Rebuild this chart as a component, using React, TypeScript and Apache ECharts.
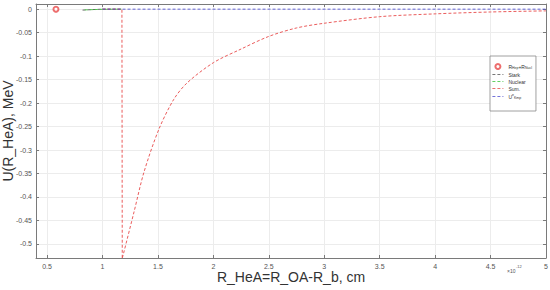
import React, { useEffect, useRef } from "react";
import * as echarts from "echarts";

// x values in units of 1e-12 cm
const xTicks = [0.5, 1, 1.5, 2, 2.5, 3, 3.5, 4, 4.5, 5];
const yTicks = [0, -0.05, -0.1, -0.15, -0.2, -0.25, -0.3, -0.35, -0.4, -0.45, -0.5];

const markerX = [0.58];
const markerY = [0];

const starkX = [0.82, 0.9, 1.0, 1.17];
const starkY = [-0.002, -0.001, 0, 0];

const nuclearX = [0.84, 1.0, 1.17];
const nuclearY = [-0.0015, -0.0003, 0];

const sumStepX = [1.0, 1.175, 1.178];
const sumStepY = [0, 0, -0.53];

const sumCurveX = [1.178, 1.19, 1.284, 1.374, 1.508, 1.643, 1.763, 2.0, 2.24, 2.5, 2.75, 3.0, 3.5, 4.0, 4.5, 5.0];
const sumCurveY = [-0.53, -0.52, -0.432, -0.347, -0.256, -0.192, -0.157, -0.114, -0.086, -0.058, -0.04, -0.03, -0.016, -0.01, -0.006, -0.0036];

const uX = [1.0, 5.0];
const uY = [0, 0];

const zip = (xs: number[], ys: number[]) => xs.map((x, i) => [x, ys[i]]);

const FONT = "'Liberation Sans', Arial, sans-serif";
const AXIS_COLOR = "#7a7a7a";
const LABEL_COLOR = "#555";
const GRID_COLOR = "#ececec";

const X_MIN = 0.4;
const X_MAX = 5;
const Y_MIN = -0.53;
const Y_MAX = 0.011;

export default function App() {
  const ref = useRef<HTMLDivElement>(null);
  useEffect(() => {
    if (!ref.current) return;
    const chart = echarts.init(ref.current, undefined, { renderer: "svg" });
    const baseX = {
      type: "value",
      min: X_MIN,
      max: X_MAX,
      axisLine: { show: true, onZero: false, lineStyle: { color: AXIS_COLOR, width: 1 } },
    };
    const baseY = {
      type: "value",
      min: Y_MIN,
      max: Y_MAX,
      axisLine: { show: true, onZero: false, lineStyle: { color: AXIS_COLOR, width: 1 } },
    };
    const hideSym = { itemStyle: { opacity: 0 } };
    chart.setOption({
      animation: false,
      textStyle: { fontFamily: FONT },
      grid: { left: 36, right: 4, top: 4, bottom: 32, containLabel: false, outerBoundsMode: "none" },
      xAxis: [
        {
          ...baseX,
          position: "bottom",
          name: "R_HeA=R_OA-R_b, cm",
          nameLocation: "middle",
          nameGap: 12,
          nameMoveOverlap: false,
          nameTextStyle: { fontSize: 14, color: "#333", fontFamily: FONT },
          axisTick: { show: true, inside: true, length: 3, customValues: xTicks, lineStyle: { color: AXIS_COLOR } },
          axisLabel: { show: true, customValues: xTicks, fontSize: 7, color: LABEL_COLOR, margin: 5, formatter: (v: number) => String(v) },
          splitLine: { show: true, lineStyle: { color: GRID_COLOR, width: 1 } },
        },
        {
          ...baseX,
          position: "top",
          axisTick: { show: true, inside: true, length: 3, customValues: xTicks, lineStyle: { color: AXIS_COLOR } },
          axisLabel: { show: false },
          splitLine: { show: false },
        },
      ],
      yAxis: [
        {
          ...baseY,
          position: "left",
          name: "U(R_HeA), MeV",
          nameLocation: "middle",
          nameGap: 21,
          nameMoveOverlap: false,
          nameTextStyle: { fontSize: 14, color: "#333", fontFamily: FONT },
          axisTick: { show: true, inside: true, length: 3, customValues: yTicks, lineStyle: { color: AXIS_COLOR } },
          axisLabel: { show: true, customValues: yTicks, fontSize: 7, color: LABEL_COLOR, margin: 4, formatter: (v: number) => String(v) },
          splitLine: { show: true, lineStyle: { color: GRID_COLOR, width: 1 } },
        },
        {
          ...baseY,
          position: "right",
          axisTick: { show: true, inside: true, length: 3, customValues: yTicks, lineStyle: { color: AXIS_COLOR } },
          axisLabel: { show: false },
          splitLine: { show: false },
        },
      ],
      legend: {
        orient: "vertical",
        left: 490,
        top: 56,
        itemWidth: 11,
        itemHeight: 5,
        itemGap: 2,
        padding: [7, 4, 11, 2],
        backgroundColor: "#fff",
        borderColor: "#888",
        borderWidth: 0.8,
        data: [
          { name: "R" },
          { name: "Stark", ...hideSym },
          { name: "Nuclear", ...hideSym },
          { name: "Sum.", ...hideSym },
          { name: "U", ...hideSym },
        ],
        lineStyle: { width: 0.8 },
        textStyle: {
          fontSize: 5,
          color: "#333",
          fontFamily: FONT,
          rich: {
            n: { fontSize: 5, color: "#333" },
            sub: { fontSize: 3.5, color: "#333", verticalAlign: "bottom", padding: [3, 0, 0, 0] },
            sup: { fontSize: 3.5, color: "#333", verticalAlign: "top", padding: [0, 0, 3, 0] },
          },
        },
        formatter: (name: string) => {
          if (name === "R") return "{n|R}{sub|Hep}{n|+R}{sub|Nucl}";
          if (name === "U") return "{n|U}{sup|e}{sub|Kmp}";
          return name;
        },
      },
      series: [
        {
          name: "R",
          type: "scatter",
          symbol: "emptyCircle",
          symbolSize: 5,
          itemStyle: { color: "#e84a4a", borderWidth: 0.8 },
          data: zip(markerX, markerY),
        },
        {
          name: "Stark",
          type: "line",
          symbol: "none",
          lineStyle: { color: "#555", width: 0.9, type: [3, 2] },
          itemStyle: { color: "#555" },
          data: zip(starkX, starkY),
        },
        {
          name: "Nuclear",
          type: "line",
          symbol: "none",
          lineStyle: { color: "#3cc43c", width: 0.9, type: [3, 2] },
          itemStyle: { color: "#3cc43c" },
          data: zip(nuclearX, nuclearY),
        },
        {
          name: "Sum.",
          type: "line",
          symbol: "none",
          lineStyle: { color: "#e84a4a", width: 0.9, type: [3, 2] },
          itemStyle: { color: "#e84a4a" },
          data: zip(sumStepX, sumStepY),
        },
        {
          name: "Sum.",
          type: "line",
          symbol: "none",
          smooth: 0.3,
          lineStyle: { color: "#e84a4a", width: 0.9, type: [3, 2] },
          itemStyle: { color: "#e84a4a" },
          data: zip(sumCurveX, sumCurveY),
        },
        {
          name: "U",
          type: "line",
          symbol: "none",
          lineStyle: { color: "#5050d0", width: 0.9, type: [3, 2] },
          itemStyle: { color: "#5050d0" },
          data: zip(uX, uY),
        },
      ],
      graphic: [
        { type: "text", left: 507, top: 268, style: { text: "×10", fontSize: 5, fill: "#555", fontFamily: FONT } },
        { type: "text", left: 516, top: 264, style: { text: "-12", fontSize: 4, fill: "#555", fontFamily: FONT } },
      ],
    });
    return () => chart.dispose();
  }, []);
  return <div ref={ref} style={{ position: "fixed", left: 0, top: 0, width: 550, height: 290, background: "#fff" }} />;
}
